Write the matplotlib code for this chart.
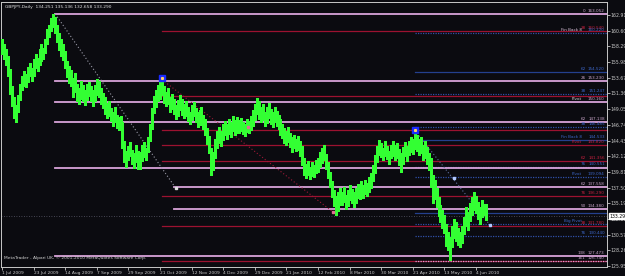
import matplotlib.pyplot as plt
import matplotlib.transforms as mtransforms

# daily bars GBPJPY, 1 Jul 2009 .. mid Jun 2010 (high / low)
highs = [
    159.3, 158.6, 157.9, 156.8, 155.0, 152.4, 150.9, 149.6, 151.2, 152.8,
    153.9, 154.6, 154.2, 155.3, 155.8, 155.1, 156.4, 157.2, 156.6, 157.9,
    158.6, 158.1, 159.4, 160.8, 161.5, 162.4, 163.05, 162.6, 161.4, 160.2,
    159.4, 158.7, 157.6, 156.2, 155.4, 154.8, 153.6, 154.3, 152.8, 152.1,
    153.2, 152.6, 151.9, 152.8, 153.1, 152.4, 151.8, 152.6, 153.5, 153.2,
    152.1, 151.4, 150.8, 149.9, 150.3, 149.2, 148.6, 149.3, 148.2, 147.9,
    148.1, 147.2, 144.3, 142.9, 143.6, 144.2, 143.1, 142.6, 143.8, 142.9,
    142.8, 143.7, 144.2, 143.4, 144.9, 146.8, 149.2, 151.0, 151.8, 152.6,
    153.0, 153.5, 152.4, 151.6, 152.1, 150.8, 151.3, 150.6, 149.7, 150.4,
    151.2, 150.6, 149.8, 150.3, 149.4, 148.7, 149.6, 150.1, 149.2, 148.6,
    148.9, 149.3, 148.2, 147.6, 146.3, 145.1, 143.4, 142.8, 144.6, 145.9,
    146.4, 145.8, 146.9, 147.3, 146.8, 147.6, 147.2, 148.0, 147.5, 147.9,
    147.4, 147.8, 147.2, 146.9, 147.6, 147.3, 148.1, 148.9, 149.8, 150.7,
    150.2, 149.4, 149.8, 148.7, 149.3, 150.0, 149.1, 148.6, 149.4, 148.8,
    148.2, 147.6, 146.9, 146.2, 145.8, 146.4, 145.6, 144.9, 145.3, 144.6,
    145.1, 144.3, 143.6, 141.8, 140.9, 141.4, 140.6, 141.2, 140.8, 141.5,
    141.9, 142.7, 143.4, 143.8, 142.5, 141.3, 139.8, 138.4, 137.2, 136.3,
    136.8, 137.4, 136.9, 137.6, 136.4, 137.1, 137.9, 137.3, 136.8, 137.5,
    138.1, 137.8, 138.4, 137.9, 138.6, 138.2, 139.0, 139.6, 140.8, 142.3,
    143.6, 144.5, 144.1, 143.4, 144.3, 143.6, 142.9, 143.8, 144.4, 143.7,
    144.0, 143.2, 142.6, 143.5, 144.2, 143.6, 144.4, 145.0, 144.7, 145.6,
    145.2, 144.6, 144.9, 143.8, 144.3, 143.5, 142.6, 141.9, 139.4, 138.6,
    137.4, 136.1, 134.9, 134.2, 133.5, 132.1, 131.0, 130.2, 131.8, 132.9,
    132.4, 131.6, 130.9, 131.8, 133.1, 134.6, 133.9, 135.2, 136.1, 136.9,
    136.2, 135.4, 134.7, 135.6, 135.1, 135.136,
]
lows = [
    157.2, 156.4, 155.6, 153.9, 151.3, 149.5, 147.8, 147.2, 148.6, 150.4,
    151.8, 152.5, 152.3, 153.1, 153.9, 153.2, 154.0, 155.1, 154.6, 155.6,
    156.2, 156.5, 157.3, 158.7, 159.6, 160.5, 161.2, 160.3, 158.9, 157.8,
    156.8, 156.3, 155.1, 153.8, 152.9, 152.4, 150.9, 151.6, 150.2, 149.8,
    150.6, 150.3, 149.6, 150.4, 151.0, 150.2, 149.5, 150.3, 151.1, 150.8,
    149.8, 149.2, 148.4, 147.8, 148.1, 147.3, 146.6, 147.1, 146.2, 146.0,
    146.1, 143.4, 141.2, 140.6, 141.5, 142.1, 141.0, 140.4, 141.3, 140.2,
    140.3, 141.4, 142.0, 141.6, 142.7, 144.3, 146.1, 148.5, 149.4, 150.3,
    150.6, 151.2, 150.0, 149.5, 149.8, 148.6, 149.0, 148.3, 147.6, 148.1,
    148.9, 148.2, 147.7, 148.1, 147.3, 146.8, 147.4, 148.0, 147.1, 146.4,
    146.7, 147.0, 146.1, 145.2, 143.9, 142.6, 139.3, 140.1, 141.9, 143.4,
    144.1, 143.6, 144.5, 145.2, 144.7, 145.4, 145.0, 145.8, 145.3, 145.6,
    145.5, 145.9, 145.4, 145.1, 145.7, 145.6, 146.0, 146.6, 147.4, 148.3,
    147.6, 147.2, 147.5, 146.6, 147.0, 147.8, 146.9, 146.4, 147.1, 146.5,
    146.1, 145.3, 144.8, 144.1, 143.7, 144.2, 143.5, 142.8, 143.4, 142.9,
    143.0, 142.1, 140.8, 139.3, 138.9, 139.4, 138.8, 139.2, 139.0, 139.6,
    139.8, 140.6, 141.1, 141.5, 140.2, 138.9, 137.6, 136.1, 134.8, 133.4,
    134.1, 134.9, 135.0, 135.4, 134.3, 134.8, 135.6, 135.2, 134.7, 135.3,
    135.9, 135.8, 136.2, 136.0, 136.5, 136.3, 136.9, 137.5, 138.4, 139.7,
    141.2, 142.3, 142.0, 141.5, 142.1, 141.7, 141.0, 141.8, 142.2, 141.6,
    141.9, 140.8, 139.8, 141.0, 142.1, 141.4, 142.3, 142.8, 142.5, 143.2,
    142.9, 142.3, 142.6, 141.5, 141.8, 140.9, 140.1, 137.6, 135.2, 135.8,
    134.6, 133.3, 132.4, 131.5, 130.8, 128.9, 128.3, 126.8, 128.7, 130.1,
    129.6, 129.0, 128.7, 129.3, 130.6, 131.9, 131.3, 132.6, 133.5, 134.2,
    133.8, 132.9, 132.2, 133.1, 133.4, 132.658,
]
last_close = 133.290

date_labels = ["1 Jul 2009", "23 Jul 2009", "14 Aug 2009", "7 Sep 2009",
               "29 Sep 2009", "21 Oct 2009", "12 Nov 2009", "4 Dec 2009",
               "29 Dec 2009", "21 Jan 2010", "12 Feb 2010", "8 Mar 2010",
               "30 Mar 2010", "21 Apr 2010", "13 May 2010", "4 Jun 2010"]
price_ticks = [125.95, 128.26, 130.57, 132.88, 135.19, 137.50, 139.81, 142.12,
               144.43, 146.74, 149.05, 151.36, 153.67, 155.98, 158.29, 160.60,
               162.91]

# fib / pivot levels drawn by the chart objects
lvl_price = [163.052, 160.540, 160.220, 154.520, 153.230, 151.247, 150.980,
             150.160, 147.138, 146.485, 145.980, 144.533, 143.820, 141.356,
             140.551, 140.340, 139.094, 137.558, 136.290, 134.380, 133.760,
             132.080, 131.780, 130.440, 127.473, 126.740, 126.740]
lvl_kind = ["p", "r", "bd", "b", "p", "bd", "r", "p", "p", "bd", "r", "b", "r",
            "r", "bd", "p", "bd", "p", "r", "p", "b", "bd", "r", "bd", "p",
            "r", "pd"]
lvl_start = [27, 81, 209, 209, 27, 209, 81, 27, 27, 209, 81, 209, 81, 81,
             209, 27, 209, 87, 81, 87, 209, 209, 81, 209, 27, 81, 209]
lvl_tag = ["0", "38", "Fin Back 8", "62", "26", "38", "", "Pivot", "62", "38",
           "", "Fin Back 8", "Pivot", "62", "76", "", "Pivot", "62", "76",
           "50", "", "Big Pivot", "38", "76", "138", "", "161"]
lvl_text = ["163.052", "160.540", "160.220", "154.520", "153.230", "151.247", "",
            "150.160", "147.138", "146.485", "", "144.533", "143.820", "141.356",
            "140.551", "", "139.094", "137.558", "136.290", "134.380", "",
            "", "131.780", "130.440", "127.473", "", "126.740"]

# diagonal fib trend lines (bar index, price)
trend_a = [(27, 163.05), (88, 137.4)]
trend_b = [(81, 153.4), (167.6, 133.9)]
trend_c = [(209, 145.9), (247, 132.0)]
anchors = [(81, 153.6), (209, 146.0)]

BG = "#0b0b10"
FS = 3.0
colors = {"p": "#d9a3d9", "pd": "#d9a3d9", "r": "#9c1230",
          "b": "#24408e", "bd": "#3050a8"}
text_colors = {"p": "#c9a6c9", "pd": "#c9a6c9", "r": "#c8203f",
               "b": "#3c66c8", "bd": "#3c66c8"}

fig = plt.figure(figsize=(6.25, 2.76), dpi=100)
fig.patch.set_facecolor(BG)
ax = fig.add_axes([1 / 625, 9 / 276, 606 / 625, 265 / 276])
ax.set_facecolor(BG)
ax.set_xlim(-0.5, 306.3)
ax.set_ylim(125.81, 164.82)

n = len(highs)
idx = list(range(n))

# level lines
for p, k, s in zip(lvl_price, lvl_kind, lvl_start):
    ls = (0, (1, 1)) if k in ("bd", "pd") else "-"
    lw = 1.3 if k == "p" else 0.9
    ax.plot([s, 306.3], [p, p], color=colors[k], lw=lw, ls=ls, zorder=1)

# labels on the right
for p, k, tag, txt in zip(lvl_price, lvl_kind, lvl_tag, lvl_text):
    c = text_colors[k]
    if txt:
        ax.text(305.2, p + 0.15, txt, color=c, fontsize=FS, ha="right",
                va="bottom", zorder=5)
    if tag:
        tc = c
        if tag == "Pivot" and k == "p":
            tc = "#d8d8d8"
        if tag == "Fin Back 8" and k == "bd":
            tc = "#d8c0d8"
        x_tag = 295.5 if len(tag) < 4 else 293.5
        ax.text(x_tag, p + 0.15, tag, color=tc, fontsize=FS, ha="right",
                va="bottom", zorder=5)

# current price line
ax.axhline(last_close, color="#5a5a6a", lw=0.6, ls=(0, (1, 2)), zorder=1)

# trend lines
for seg, c in ((trend_a, "#9a9aa8"), (trend_b, "#a01838"), (trend_c, "#6070a0")):
    (x0, y0), (x1, y1) = seg
    ax.plot([x0, x1], [y0, y1], color=c, lw=0.8, ls=(0, (1, 2)), zorder=2)
ax.plot([trend_a[1][0]], [trend_a[1][1]], "s", ms=1.5, color="#dddddd", zorder=4)
ax.plot([124.5, trend_b[1][0]], [146.4, trend_b[1][1]], "s", ms=1.8,
        color="#e07090", lw=0, zorder=4)
ax.plot([228.8, trend_c[1][0]], [138.9, trend_c[1][1]], "s", ms=1.6,
        color="#b0c8ff", lw=0, zorder=4)

# price bars, crisp like the terminal
ax.vlines(idx, lows, highs, color="#33ff33", lw=0.75, antialiased=False, zorder=3)

for ax_i, ap in anchors:
    ax.plot([ax_i], [ap], "s", ms=5, color="#1a2aff", zorder=4)
    ax.plot([ax_i], [ap], "s", ms=1.2, color="#ffcc66", zorder=5)

# axes styling
for sp in ax.spines.values():
    sp.set_color("#c8c8c8")
    sp.set_linewidth(0.7)
ax.yaxis.tick_right()
ax.set_yticks(price_ticks)
ax.set_yticklabels([f"{v:.3f}" for v in price_ticks])
ax.set_xticks(list(range(0, 16 * len(date_labels), 16)))
ax.set_xticklabels(date_labels)
for lab in ax.get_xticklabels():
    lab.set_horizontalalignment("left")
ax.tick_params(axis="y", colors="#c8c8c8", labelsize=3.3, length=2, width=0.6, pad=0.8)
ax.tick_params(axis="x", colors="#c8c8c8", labelsize=3.2, length=2, width=0.6, pad=0.8)

# last price box
trans = mtransforms.blended_transform_factory(ax.transAxes, ax.transData)
ax.text(1.004, last_close, "133.290", transform=trans, fontsize=3.3,
        color="black", va="center", ha="left", clip_on=False,
        bbox=dict(boxstyle="square,pad=0.15", fc="white", ec="white"))

fig.text(5 / 625, 1 - 7 / 276, "GBPJPY,Daily  134.251 135.136 132.658 133.290",
         color="#e0e0e0", fontsize=3.2, va="center")
fig.text(4 / 625, 1 - 258 / 276,
         "MetaTrader - Alpari UK, \u00a9 2001-2010 MetaQuotes Software Corp.",
         color="#d0d0d0", fontsize=3.2, va="center")

fig.savefig("out.png", dpi=100, facecolor=BG)
